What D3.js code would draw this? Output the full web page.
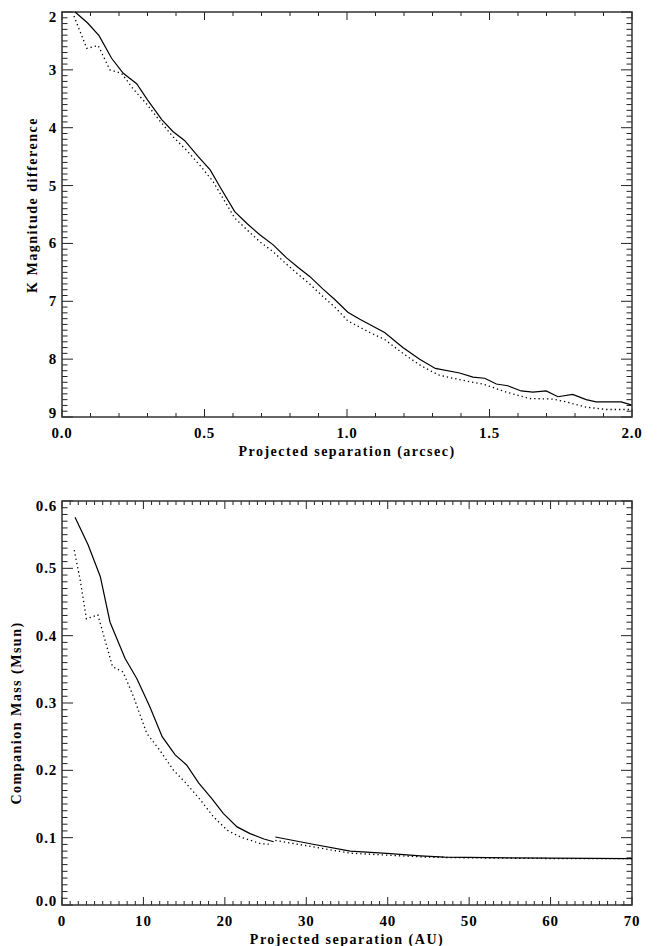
<!DOCTYPE html>
<html>
<head>
<meta charset="utf-8">
<script src="https://cdn.jsdelivr.net/npm/d3@7"></script>
<style>
  body { margin: 0; background: #fff; }
  text { font-family: "Liberation Serif", "DejaVu Serif", serif; font-weight: bold; fill: #000; }
</style>
</head>
<body>
<div id="chart"></div>
<script>
// top panel: contrast curve (arcsec vs delta K)
var solidArcsec = [0.046, 0.09, 0.13, 0.174, 0.215, 0.262, 0.30, 0.35, 0.39, 0.43, 0.478, 0.52, 0.554, 0.606, 0.65, 0.694, 0.74, 0.788, 0.83, 0.869, 0.916, 0.957, 1.003, 1.045, 1.086, 1.132, 1.196, 1.255, 1.31, 1.395, 1.442, 1.483, 1.524, 1.564, 1.611, 1.652, 1.699, 1.74, 1.792, 1.839, 1.874, 1.962, 1.997];
var solidDmag   = [2.0, 2.19, 2.41, 2.80, 3.06, 3.24, 3.52, 3.86, 4.07, 4.22, 4.50, 4.73, 5.02, 5.45, 5.66, 5.85, 6.02, 6.25, 6.42, 6.57, 6.79, 6.97, 7.19, 7.31, 7.42, 7.54, 7.80, 8.0, 8.16, 8.24, 8.31, 8.33, 8.43, 8.46, 8.55, 8.57, 8.55, 8.65, 8.61, 8.70, 8.74, 8.74, 8.79];
var dottedArcsec = [0.042, 0.087, 0.127, 0.168, 0.209, 0.25, 0.297, 0.343, 0.39, 0.437, 0.484, 0.53, 0.554, 0.606, 0.65, 0.694, 0.74, 0.788, 0.83, 0.869, 0.916, 0.957, 1.003, 1.08, 1.132, 1.196, 1.255, 1.30, 1.325, 1.43, 1.477, 1.559, 1.64, 1.722, 1.77, 1.839, 1.909, 1.997];
var dottedDmag   = [2.07, 2.63, 2.58, 3.0, 3.06, 3.33, 3.59, 3.88, 4.16, 4.39, 4.65, 4.93, 5.13, 5.56, 5.77, 5.97, 6.14, 6.36, 6.54, 6.70, 6.92, 7.10, 7.34, 7.54, 7.66, 7.90, 8.10, 8.22, 8.28, 8.39, 8.43, 8.57, 8.68, 8.69, 8.74, 8.83, 8.87, 8.87];

// bottom panel: mass limit (AU vs Msun), curve has a break near 26 AU
var solidAU1   = [1.6, 3.2, 4.7, 5.9, 7.75, 9.2, 10.8, 12.3, 13.9, 15.3, 16.8, 18.4, 19.8, 21.5, 23.1, 24.8, 26.0];
var solidMass1 = [0.576, 0.535, 0.488, 0.42, 0.366, 0.336, 0.294, 0.25, 0.223, 0.208, 0.181, 0.158, 0.136, 0.116, 0.106, 0.098, 0.094];
var solidAU2   = [26.2, 30.5, 35.4, 39.9, 44, 47, 55, 70];
var solidMass2 = [0.101, 0.091, 0.080, 0.0766, 0.073, 0.071, 0.070, 0.069];
var dottedAU1   = [1.5, 2.2, 3.0, 4.4, 5.6, 6.2, 7.5, 8.8, 10.4, 12.0, 13.7, 15.3, 17, 18.6, 20.3, 21.9, 24.4, 25.8];
var dottedMass1 = [0.527, 0.485, 0.425, 0.431, 0.38, 0.354, 0.346, 0.309, 0.255, 0.23, 0.2, 0.18, 0.156, 0.131, 0.111, 0.101, 0.091, 0.090];
var dottedAU2   = [26.2, 30.5, 35.4, 39.9, 45, 50, 60, 70];
var dottedMass2 = [0.096, 0.087, 0.077, 0.074, 0.071, 0.070, 0.069, 0.069];

var topXTicks = [0.0, 0.5, 1.0, 1.5, 2.0];
var topYTicks = [2, 3, 4, 5, 6, 7, 8, 9];
var botXTicks = [0, 10, 20, 30, 40, 50, 60, 70];
var botYTicks = [0.0, 0.1, 0.2, 0.3, 0.4, 0.5, 0.6];

var width = 659, height = 946;

var svg = d3.select("#chart")
    .append("svg")
    .attr("width", width)
    .attr("height", height);

svg.append("rect").attr("width", width).attr("height", height).attr("fill", "#fff");

function zip(a, b) {
    return a.map(function (v, i) { return [v, b[i]]; });
}

function panel(opt) {
    var g = svg.append("g");
    var x = d3.scaleLinear().domain(opt.xDomain).range([opt.left, opt.right]);
    var y = d3.scaleLinear().domain(opt.yDomain).range([opt.bottom, opt.top]);
    var xLen = 8, yLen = 11;

    // minor + major ticks on all four sides, pointing in
    var xMinor = d3.range(opt.xDomain[0], opt.xDomain[1] + 1e-9, opt.xMinor);
    var yMinor = d3.range(Math.min.apply(null, opt.yDomain), Math.max.apply(null, opt.yDomain) + 1e-9, opt.yMinor);

    var tk = g.append("g").attr("stroke", "#222").attr("stroke-width", 1);
    xMinor.forEach(function (v) {
        var major = opt.xTicks.some(function (t) { return Math.abs(t - v) < 1e-6; });
        var l = major ? xLen : xLen / 2;
        tk.append("line").attr("x1", x(v)).attr("x2", x(v)).attr("y1", opt.bottom).attr("y2", opt.bottom - l);
        tk.append("line").attr("x1", x(v)).attr("x2", x(v)).attr("y1", opt.top).attr("y2", opt.top + l);
    });
    yMinor.forEach(function (v) {
        var major = opt.yTicks.some(function (t) { return Math.abs(t - v) < 1e-6; });
        var l = major ? yLen : yLen / 2;
        tk.append("line").attr("y1", y(v)).attr("y2", y(v)).attr("x1", opt.left).attr("x2", opt.left + l);
        tk.append("line").attr("y1", y(v)).attr("y2", y(v)).attr("x1", opt.right).attr("x2", opt.right - l);
    });

    g.append("rect")
        .attr("x", opt.left).attr("y", opt.top)
        .attr("width", opt.right - opt.left).attr("height", opt.bottom - opt.top)
        .attr("fill", "none").attr("stroke", "#333").attr("stroke-width", 1.5);

    // tick labels
    g.selectAll(".xl").data(opt.xTicks).enter().append("text")
        .attr("x", function (d) { return x(d); })
        .attr("y", opt.bottom + 21)
        .attr("text-anchor", "middle")
        .attr("font-size", 15)
        .attr("letter-spacing", 0.8)
        .text(opt.xFmt);
    g.selectAll(".yl").data(opt.yTicks).enter().append("text")
        .attr("x", opt.left - 5)
        .attr("y", function (d) {
            var p = Math.max(opt.top + 5, Math.min(opt.bottom - 4, y(d)));
            return p + 5;
        })
        .attr("text-anchor", "end")
        .attr("font-size", 15)
        .attr("letter-spacing", 0.8)
        .text(opt.yFmt);

    // axis titles
    g.append("text")
        .attr("x", (opt.left + opt.right) / 2)
        .attr("y", opt.bottom + 39)
        .attr("text-anchor", "middle")
        .attr("font-size", 14)
        .attr("letter-spacing", 1.5)
        .text(opt.xTitle);
    g.append("text")
        .attr("transform", "translate(" + opt.yTitleX + "," + opt.yTitleY + ") rotate(-90)")
        .attr("text-anchor", "middle")
        .attr("font-size", 14)
        .attr("letter-spacing", 1.5)
        .text(opt.yTitle);

    var line = d3.line()
        .x(function (d) { return x(d[0]); })
        .y(function (d) { return y(d[1]); });

    opt.series.forEach(function (s) {
        g.append("path")
            .datum(s.pts)
            .attr("d", line)
            .attr("fill", "none")
            .attr("stroke", "#000")
            .attr("stroke-width", s.dotted ? 1.3 : 1.2)
            .attr("stroke-dasharray", s.dotted ? "1.3,3" : null);
    });
}

panel({
    left: 62, right: 632, top: 12, bottom: 417,
    xDomain: [0, 2], yDomain: [9, 2],
    xTicks: topXTicks, yTicks: topYTicks,
    xMinor: 0.1, yMinor: 0.1,
    xFmt: d3.format(".1f"), yFmt: d3.format("d"),
    xTitle: "Projected separation (arcsec)",
    yTitle: "K Magnitude difference",
    yTitleX: 37, yTitleY: 205,
    series: [
        { pts: zip(solidArcsec, solidDmag), dotted: false },
        { pts: zip(dottedArcsec, dottedDmag), dotted: true }
    ]
});

panel({
    left: 62, right: 632, top: 501, bottom: 905,
    xDomain: [0, 70], yDomain: [0, 0.6],
    xTicks: botXTicks, yTicks: botYTicks,
    xMinor: 1, yMinor: 0.01,
    xFmt: d3.format("d"), yFmt: d3.format(".1f"),
    xTitle: "Projected separation (AU)",
    yTitle: "Companion Mass (Msun)",
    yTitleX: 21, yTitleY: 713,
    series: [
        { pts: zip(solidAU1, solidMass1), dotted: false },
        { pts: zip(solidAU2, solidMass2), dotted: false },
        { pts: zip(dottedAU1, dottedMass1), dotted: true },
        { pts: zip(dottedAU2, dottedMass2), dotted: true }
    ]
});
</script>
</body>
</html>
